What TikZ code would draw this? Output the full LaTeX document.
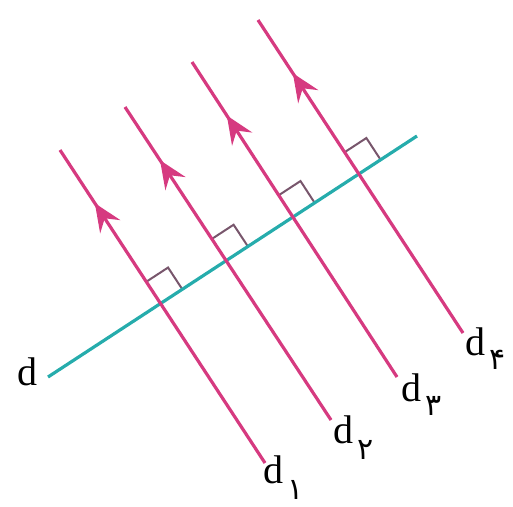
\documentclass[tikz,border=0pt]{standalone}
\usepackage{fontspec}
\setmainfont{Liberation Serif}
\newfontfamily\fadigits[Script=Arabic]{DejaVu Sans}
\usetikzlibrary{calc,intersections,decorations.markings,arrows.meta}
\definecolor{pinkline}{RGB}{214,58,128}
\definecolor{cyanline}{RGB}{38,172,172}
\definecolor{markgray}{RGB}{120,86,108}
\tikzset{
  parline/.style={draw=pinkline, line width=3.2pt,
    postaction={decorate},
    decoration={markings, mark=at position 0.83 with {\arrow{Stealth[length=28pt,width=24pt,inset=10pt]}}}},
  baseline/.style={draw=cyanline, line width=3.2pt},
  ramark/.style={draw=markgray, line width=2pt, line join=miter},
  lab/.style={font=\fontsize{40}{44}\selectfont, inner sep=0pt},
  sublab/.style={font=\fadigits\fontsize{30}{34}\selectfont, inner sep=0pt, text=black}
}
\begin{document}
\begin{tikzpicture}[x=1pt,y=-1pt]
\useasboundingbox (0,0) rectangle (513,506);
% base line d
\coordinate (ds) at (48,377);
\coordinate (de) at (417,136);
% parallel lines: top and bottom ends
\coordinate (t1) at (60,150);  \coordinate (b1) at (265,463);
\coordinate (t2) at (125,107); \coordinate (b2) at (331,420);
\coordinate (t3) at (192,62);  \coordinate (b3) at (397,377);
\coordinate (t4) at (258,20);  \coordinate (b4) at (463,333);
\path[name path=dl] (ds) -- (de);
\foreach \i in {1,2,3,4}{
  \path[name path=p\i] (b\i) -- (t\i);
  \path[name intersections={of=dl and p\i, by=x\i}];
  \draw[ramark] ($(x\i)!26pt!(t\i)$) -- ($(x\i)!26pt!(t\i)+(x\i)!26pt!(de)-(x\i)$) -- ($(x\i)!26pt!(de)$);
}
\draw[baseline] (ds) -- (de);
\foreach \i in {1,2,3,4}{
  \draw[parline] (b\i) -- (t\i);
}
% labels
\node[lab] (ld) at (27,372) {d};
\node[lab] (l1) at (273,470) {d};
\node[sublab] (s1) at (296,490) {۱};
\node[lab] (l2) at (343,430) {d};
\node[sublab] (s2) at (366,450) {۲};
\node[lab] (l3) at (411,388) {d};
\node[sublab] (s3) at (434,406) {۳};
\node[lab] (l4) at (475,342) {d};
\node[sublab] (s4) at (498,360) {۴};
\end{tikzpicture}
\end{document}
